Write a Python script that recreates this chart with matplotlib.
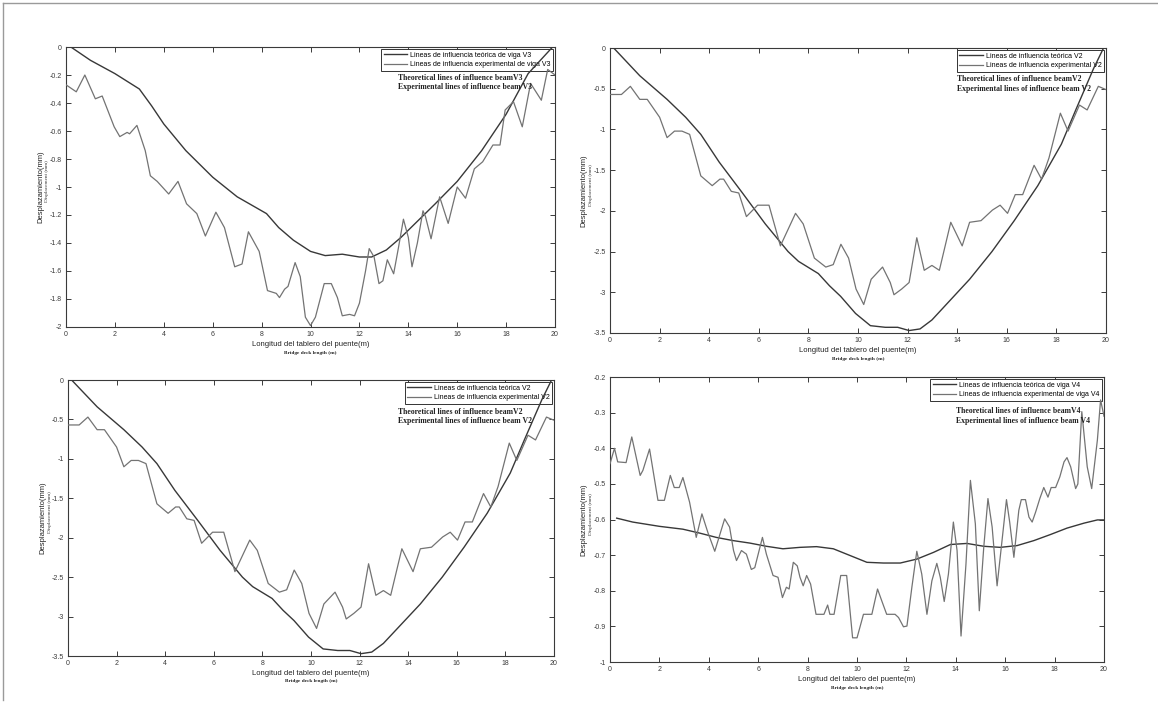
import matplotlib
matplotlib.use("Agg")
import matplotlib.pyplot as plt
from matplotlib.lines import Line2D

plt.rcParams['font.family'] = ['Liberation Sans', 'DejaVu Sans']

# ---------------- data ----------------
# beam V3 (top left)
v3_teo_x = [0.2, 1.0, 2.0, 3.0, 3.5, 4.0, 4.9, 6.0, 7.0, 7.6, 8.2, 8.7, 9.3, 10.0, 10.6,
            11.3, 12.0, 12.5, 13.1, 13.7, 14.4, 15.1, 16.0, 17.0, 18.0, 18.9, 19.9]
v3_teo_y = [0.0, -0.095, -0.19, -0.30, -0.42, -0.55, -0.74, -0.93, -1.07, -1.13, -1.19, -1.29,
            -1.38, -1.46, -1.49, -1.48, -1.50, -1.50, -1.45, -1.36, -1.24, -1.12, -0.96, -0.74,
            -0.48, -0.19, 0.0]
v3_exp_x = [0.0, 0.42, 0.77, 1.2, 1.48, 1.97, 2.2, 2.5, 2.6, 2.9, 3.24, 3.45, 3.73, 4.2, 4.58,
            4.93, 5.35, 5.7, 6.13, 6.48, 6.9, 7.2, 7.46, 7.9, 8.24, 8.6, 8.73, 8.94, 9.08, 9.37,
            9.58, 9.79, 10.0, 10.2, 10.56, 10.85, 11.1, 11.3, 11.6, 11.8, 12.0, 12.25, 12.4,
            12.6, 12.8, 12.96, 13.14, 13.4, 13.6, 13.8, 14.0, 14.15, 14.37, 14.6, 14.7, 14.93,
            15.28, 15.63, 16.0, 16.34, 16.7, 17.04, 17.46, 17.75, 17.96, 18.3, 18.66, 19.0,
            19.44, 19.7, 20.0]
v3_exp_y = [-0.27, -0.32, -0.20, -0.37, -0.35, -0.57, -0.64, -0.61, -0.62, -0.56, -0.74, -0.92,
            -0.96, -1.05, -0.96, -1.12, -1.19, -1.35, -1.18, -1.29, -1.57, -1.55, -1.32, -1.46,
            -1.74, -1.76, -1.79, -1.73, -1.71, -1.54, -1.64, -1.93, -1.99, -1.93, -1.69, -1.69,
            -1.79, -1.92, -1.91, -1.92, -1.83, -1.60, -1.44, -1.50, -1.69, -1.67, -1.52, -1.62,
            -1.43, -1.23, -1.36, -1.57, -1.40, -1.17, -1.21, -1.37, -1.07, -1.26, -1.00, -1.08,
            -0.87, -0.82, -0.70, -0.70, -0.45, -0.39, -0.57, -0.26, -0.38, -0.16, -0.20]

# beam V2 (top right and bottom left, same curves)
v2_teo_x = [0.15, 1.2, 2.3, 3.05, 3.66, 4.4, 5.34, 6.26, 7.18, 7.6, 8.4, 8.85, 9.3, 9.9, 10.5,
            11.1, 11.6, 12.06, 12.5, 12.98, 13.74, 14.5, 15.4, 16.3, 17.25, 18.2, 18.78, 19.5,
            19.9]
v2_teo_y = [0.0, -0.34, -0.63, -0.85, -1.06, -1.40, -1.78, -2.16, -2.50, -2.62, -2.77, -2.92,
            -3.05, -3.26, -3.41, -3.43, -3.43, -3.47, -3.45, -3.34, -3.09, -2.84, -2.50, -2.12,
            -1.69, -1.18, -0.76, -0.25, 0.0]
v2_exp_x = [0.0, 0.46, 0.82, 1.2, 1.5, 2.0, 2.3, 2.6, 2.9, 3.21, 3.51, 3.66, 4.12, 4.43, 4.58,
            4.89, 5.19, 5.5, 5.95, 6.41, 6.87, 7.48, 7.79, 8.24, 8.7, 9.0, 9.31, 9.62, 9.92,
            10.23, 10.53, 10.99, 11.3, 11.45, 11.76, 12.06, 12.37, 12.67, 12.98, 13.28, 13.74,
            14.2, 14.5, 14.96, 15.42, 15.73, 16.03, 16.34, 16.64, 17.1, 17.4, 17.7, 18.16,
            18.47, 18.93, 19.24, 19.69, 20.0]
v2_exp_y = [-0.57, -0.57, -0.47, -0.63, -0.63, -0.85, -1.10, -1.02, -1.02, -1.06, -1.40, -1.57,
            -1.69, -1.61, -1.61, -1.76, -1.78, -2.07, -1.93, -1.93, -2.43, -2.03, -2.16, -2.58,
            -2.69, -2.66, -2.41, -2.58, -2.96, -3.15, -2.84, -2.69, -2.88, -3.03, -2.96, -2.88,
            -2.33, -2.73, -2.67, -2.73, -2.14, -2.43, -2.14, -2.12, -1.99, -1.93, -2.03, -1.80,
            -1.80, -1.44, -1.61, -1.35, -0.80, -1.02, -0.70, -0.76, -0.47, -0.51]

# beam V4 (bottom right)
v4_teo_x = [0.27, 0.92, 2.0, 2.95, 3.63, 4.3, 4.98, 5.66, 6.33, 7.0, 7.69, 8.36, 9.04, 9.72,
            10.4, 11.07, 11.75, 12.42, 13.1, 13.78, 14.45, 15.13, 15.8, 16.48, 17.16, 17.83,
            18.5, 19.19, 19.73, 20.0]
v4_teo_y = [-0.596, -0.607, -0.619, -0.627, -0.638, -0.650, -0.659, -0.666, -0.675, -0.682,
            -0.678, -0.676, -0.682, -0.701, -0.720, -0.722, -0.722, -0.711, -0.692, -0.670,
            -0.667, -0.675, -0.678, -0.673, -0.659, -0.642, -0.624, -0.610, -0.601, -0.601]
v4_exp_x = [0.0, 0.18, 0.31, 0.65, 0.88, 1.22, 1.33, 1.6, 1.94, 2.2, 2.44, 2.6, 2.8, 2.95,
            3.22, 3.49, 3.72, 3.96, 4.24, 4.64, 4.84, 5.0, 5.12, 5.32, 5.52, 5.72, 5.86, 6.17,
            6.33, 6.6, 6.8, 6.98, 7.14, 7.25, 7.42, 7.58, 7.69, 7.82, 7.96, 8.12, 8.34, 8.66,
            8.81, 8.9, 9.07, 9.34, 9.58, 9.82, 10.0, 10.26, 10.6, 10.83, 11.0, 11.2, 11.54,
            11.68, 11.88, 12.02, 12.22, 12.42, 12.62, 12.83, 13.03, 13.23, 13.37, 13.53, 13.7,
            13.9, 14.05, 14.21, 14.41, 14.59, 14.79, 14.95, 15.13, 15.3, 15.47, 15.67, 15.87,
            16.05, 16.18, 16.35, 16.55, 16.65, 16.82, 16.96, 17.09, 17.23, 17.4, 17.56, 17.73,
            17.86, 18.04, 18.21, 18.38, 18.5, 18.65, 18.85, 18.94, 19.1, 19.32, 19.5, 19.73,
            19.86, 20.0]
v4_exp_y = [-0.443, -0.400, -0.438, -0.440, -0.368, -0.476, -0.462, -0.402, -0.546, -0.546,
            -0.476, -0.510, -0.510, -0.482, -0.551, -0.650, -0.584, -0.636, -0.689, -0.598,
            -0.621, -0.687, -0.715, -0.687, -0.697, -0.740, -0.735, -0.650, -0.697, -0.757,
            -0.762, -0.819, -0.790, -0.795, -0.720, -0.730, -0.762, -0.786, -0.757, -0.781,
            -0.866, -0.866, -0.840, -0.866, -0.866, -0.757, -0.757, -0.932, -0.932, -0.866,
            -0.866, -0.795, -0.828, -0.866, -0.866, -0.875, -0.901, -0.899, -0.790, -0.689,
            -0.753, -0.866, -0.772, -0.723, -0.762, -0.830, -0.753, -0.607, -0.687, -0.927,
            -0.725, -0.490, -0.612, -0.856, -0.678, -0.541, -0.621, -0.786, -0.659, -0.544,
            -0.607, -0.706, -0.574, -0.544, -0.544, -0.593, -0.607, -0.579, -0.541, -0.510,
            -0.537, -0.510, -0.510, -0.480, -0.438, -0.426, -0.452, -0.513, -0.500, -0.297,
            -0.452, -0.513, -0.377, -0.264, -0.310]

x_ticks = list(range(0, 21, 2))
v3_yticks = [0, -0.2, -0.4, -0.6, -0.8, -1, -1.2, -1.4, -1.6, -1.8, -2]
v2_yticks = [0, -0.5, -1, -1.5, -2, -2.5, -3, -3.5]
v4_yticks = [-0.2, -0.3, -0.4, -0.5, -0.6, -0.7, -0.8, -0.9, -1]

# ---------------- drawing ----------------
teo_col = '#383838'
exp_col = '#737373'
frame_col = '#3a3a3a'
serif = ['Liberation Serif', 'DejaVu Serif']


def panel(rect, tx, ty, ex, ey, yticks, ylim, leg1, leg2, beam, note_xy):
    ax = fig.add_axes(rect)
    ax.plot(tx, ty, color=teo_col, lw=1.0, label=leg1, zorder=3)
    ax.plot(ex, ey, color=exp_col, lw=0.9, label=leg2, zorder=3)
    ax.set_xlim(0, 20)
    ax.set_ylim(*ylim)
    ax.set_xticks(x_ticks)
    ax.set_xticklabels([f"{v:g}" for v in x_ticks])
    ax.set_yticks(yticks)
    ax.set_yticklabels([f"{v:g}" for v in yticks])
    ax.tick_params(direction='in', top=True, right=True, length=3.5, width=0.7,
                   labelsize=5, colors=frame_col, pad=3)
    for sp in ax.spines.values():
        sp.set_color(frame_col)
        sp.set_linewidth(0.8)
    leg = ax.legend(loc='upper right', fontsize=5, frameon=True, fancybox=False,
                    framealpha=1, edgecolor='#333333', borderaxespad=0.3,
                    handlelength=3.4, handletextpad=0.4, borderpad=0.35,
                    labelspacing=0.4)
    leg.get_frame().set_linewidth(0.7)
    leg.set_zorder(2)
    ax.text(note_xy[0], note_xy[1],
            "Theoretical lines of influence beam" + beam + "\nExperimental lines of influence beam " + beam,
            transform=ax.transAxes, fontsize=5.6, fontweight='bold', va='top', ha='left',
            family=serif, linespacing=1.3, color='#222222')
    # axis labels (spanish + english underneath)
    ax.set_xlabel("Longitud del tablero del puente(m)", fontsize=5.5, color='#222222', labelpad=2)
    ax.text(0.5, -0.085, "Bridge deck length (m)", transform=ax.transAxes, fontsize=3.8,
            fontweight='bold', ha='center', va='top', family=serif, color='#222222')
    ax.text(-0.052, 0.5, "Desplazamiento(mm)", transform=ax.transAxes, rotation=90,
            fontsize=5.5, ha='center', va='center', color='#222222')
    ax.text(-0.038, 0.52, "Displacement (mm)", transform=ax.transAxes, rotation=90,
            fontsize=3.8, ha='center', va='center', family=serif, color='#333333')
    return ax


fig = plt.figure(figsize=(11.58, 7.07), dpi=100)
fig.patch.set_facecolor('white')

panel([0.0570, 0.5375, 0.4223, 0.3960], v3_teo_x, v3_teo_y, v3_exp_x, v3_exp_y, v3_yticks, (-2, 0),
      "Lineas de influencia teórica de viga V3", "Lineas de influencia experimental de viga V3",
      "V3", (0.679, 0.905))
panel([0.5268, 0.5290, 0.4283, 0.4030], v2_teo_x, v2_teo_y, v2_exp_x, v2_exp_y, v2_yticks, (-3.5, 0),
      "Lineas de influencia teórica V2", "Lineas de influencia experimental V2",
      "V2", (0.700, 0.905))
panel([0.0587, 0.0721, 0.4197, 0.3904], v2_teo_x, v2_teo_y, v2_exp_x, v2_exp_y, v2_yticks, (-3.5, 0),
      "Lineas de influencia teórica V2", "Lineas de influencia experimental V2",
      "V2", (0.679, 0.900))
panel([0.5268, 0.0636, 0.4266, 0.4030], v4_teo_x, v4_teo_y, v4_exp_x, v4_exp_y, v4_yticks, (-1, -0.2),
      "Lineas de influencia teórica de viga V4", "Lineas de influencia experimental de viga V4",
      "V4", (0.700, 0.895))

# thin page frame (top and left edges of the scanned figure)
fig.add_artist(Line2D([0.003, 1.0], [0.996, 0.996], color='#9a9a9a', lw=1.0))
fig.add_artist(Line2D([0.003, 0.003], [0.01, 0.996], color='#9a9a9a', lw=1.0))

fig.savefig("out.png", dpi=100)
